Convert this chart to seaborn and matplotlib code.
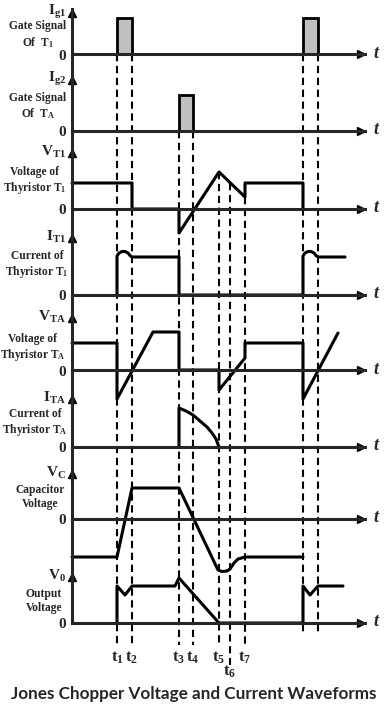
import matplotlib
matplotlib.use('Agg')
import matplotlib.pyplot as plt
import seaborn as sns


# switching instants on the time axis (arbitrary units)
t1, t2, t3, t4, t5, t6, t7 = 45, 60, 107, 121, 147, 158, 173
t1b, t2b = 231, 246
event_times = [t1, t2, t3, t4, t5, t6, t7, t1b, t2b]
event_labels = ['t$_1$', 't$_2$', 't$_3$', 't$_4$', 't$_5$', 't$_6$', 't$_7$', '', '']

# gate pulses
ig1_on = [t1, t1b]
ig1_off = [t2, t2b]
ig1_level = 36
ig2_on = [t3]
ig2_off = [t4]
ig2_level = 36

# voltage across T1
vt1_t = [0, t2, t2, t3, t3, t5, t7, t7, t1b, t1b]
vt1_v = [26, 26, 0, 0, -24, 37, 12, 26, 26, 0]

# current through T1
it1_t = [t1, t1, 47, 50, 53, 56, 58, t2, t3, t3,
         t1b, t1b, 233, 236, 239, 242, 244, t2b, 273]
it1_v = [0, 39, 42, 43.5, 43.5, 42, 39.5, 38, 38, 0,
         0, 39, 42, 43.5, 43.5, 42, 39.5, 38, 38]

# voltage across TA
vta_t = [0, t1, t1, 81, t3, t3, t5, t5, t7, t7, t1b, t1b, 266]
vta_v = [27, 27, -29, 38, 38, 0, 0, -20, 12, 27, 27, -29, 37]

# current through TA
ita_t = [t3, t3, 114, 121, 128, 135, 140, 144, t5]
ita_v = [0, 39, 36, 32, 26, 20, 14, 8, 0]

# capacitor voltage
vc_t = [0, t1, t2, t3, 146, 150, 155, 158, 162, 166, t7, t1b]
vc_v = [-38, -38, 31, 31, -51, -52.5, -52, -50, -44, -40, -38, -38]

# output voltage
v0_t = [t1, t1, 53, t2, 103, t3, t5, t1b, t1b, 238, t2b, 271]
v0_v = [0, 37, 28, 37, 37, 45, 0, 0, 37, 28, 37, 37]

symbols = ['I$_{g1}$', 'I$_{g2}$', 'V$_{T1}$', 'I$_{T1}$',
           'V$_{TA}$', 'I$_{TA}$', 'V$_C$', 'V$_0$']
descriptions = ['Gate Signal\nOf  T$_1$', 'Gate Signal\nOf  T$_A$',
                'Voltage of\nThyristor T$_1$', 'Current of\nThyristor T$_1$',
                'Voltage of\nThyristor T$_A$', 'Current of\nThyristor T$_A$',
                'Capacitor\nVoltage', 'Output\nVoltage']
title = 'Jones Chopper Voltage and Current Waveforms'

# layout, in pixels of the 388x709 picture
W, H = 388, 709
X0, X1 = 72, 365
baselines = [54, 131, 209, 295, 370, 447, 519, 623]
arrow_tips = [13, 80, 153, 238, 318, 399, 474, 577]
desc_y = [35, 106, 181, 265, 348, 423, 497, 601]
desc_x = [38, 38, 35, 37, 33, 35, 40, 44]
dash_from = [54, 54, 131, 131, 172, 183, 197, 54, 54]
dash_to = [645, 645, 645, 645, 645, 665, 645, 633, 633]
label_y = [658, 658, 658, 658, 658, 672, 658, 658, 658]

sns.set_style('white')
plt.rcParams['font.family'] = ['Liberation Serif', 'DejaVu Serif']
plt.rcParams['font.weight'] = 'bold'
plt.rcParams['mathtext.fontset'] = 'custom'
plt.rcParams['mathtext.rm'] = 'Liberation Serif:bold'
plt.rcParams['mathtext.it'] = 'Liberation Serif:italic:bold'
plt.rcParams['mathtext.bf'] = 'Liberation Serif:bold'
plt.rcParams['mathtext.default'] = 'bf'

LW = 2.2
fig = plt.figure(figsize=(W / 100, H / 100), dpi=100)

# overlay in picture pixels, sharing the time scale of the panels
ov = fig.add_axes([X0 / W, 0, (X1 - X0) / W, 1])
ov.set_xlim(0, X1 - X0)
ov.set_ylim(H, 0)
ov.axis('off')
ov.vlines(event_times, dash_from, dash_to, colors='black',
          linestyles=(0, (3.5, 2.2)), lw=1.5)
for t, lab, y in zip(event_times, event_labels, label_y):
    if lab:
        ov.text(t, y, lab, ha='center', va='center', fontsize=12)

axes = []
top = 9
for base, tip, sym, desc, dx, dy in zip(baselines, arrow_tips, symbols,
                                        descriptions, desc_x, desc_y):
    ax = fig.add_axes([X0 / W, 1 - base / H, (X1 - X0) / W, (base - top) / H])
    ax.set_xlim(0, X1 - X0)
    ax.set_ylim(0, base - top)
    ax.patch.set_alpha(0)
    sns.despine(ax=ax)
    ax.spines['left'].set_linewidth(LW)
    ax.spines['bottom'].set_linewidth(LW)
    ax.set_xticks([])
    ax.set_yticks([])
    ax.plot(0, base - tip, '^', color='black', ms=5.5, clip_on=False,
            transform=ax.get_yaxis_transform())
    ax.plot(0.985, 0, '>', color='black', ms=6, clip_on=False,
            transform=ax.transAxes)
    ov.text(66 - X0, tip - 1, sym, ha='right', va='center', fontsize=11)
    ov.text(dx - X0, dy, desc, ha='center', va='center', fontsize=8.3,
            linespacing=1.2)
    ov.text(62 - X0, base + 2, '0', ha='center', va='center', fontsize=11)
    ov.text(376 - X0, base - 1, 't', ha='center', va='center', fontsize=13,
            style='italic')
    axes.append(ax)
    top = base

ax_g1, ax_g2, ax_vt1, ax_it1, ax_vta, ax_ita, ax_vc, ax_v0 = axes

for on, off in zip(ig1_on, ig1_off):
    ax_g1.bar(on, ig1_level, width=off - on, align='edge', color='#c0c0c0',
              edgecolor='black', lw=2)
for on, off in zip(ig2_on, ig2_off):
    ax_g2.bar(on, ig2_level, width=off - on, align='edge', color='#c0c0c0',
              edgecolor='black', lw=2)

waves = [(ax_vt1, vt1_t, vt1_v), (ax_it1, it1_t, it1_v),
         (ax_vta, vta_t, vta_v), (ax_ita, ita_t, ita_v),
         (ax_vc, vc_t, vc_v), (ax_v0, v0_t, v0_v)]
for ax, t, v in waves:
    sns.lineplot(x=t, y=v, ax=ax, color='black', lw=LW, sort=False,
                 estimator=None)
    for line in ax.lines:
        line.set_clip_on(False)
    ax.set_xlim(0, X1 - X0)

fig.text(0.5, 1 - 694 / H, title, ha='center', va='center', fontsize=12.3,
         fontweight='bold', family='Lato')

fig.savefig('out.png', dpi=100)
